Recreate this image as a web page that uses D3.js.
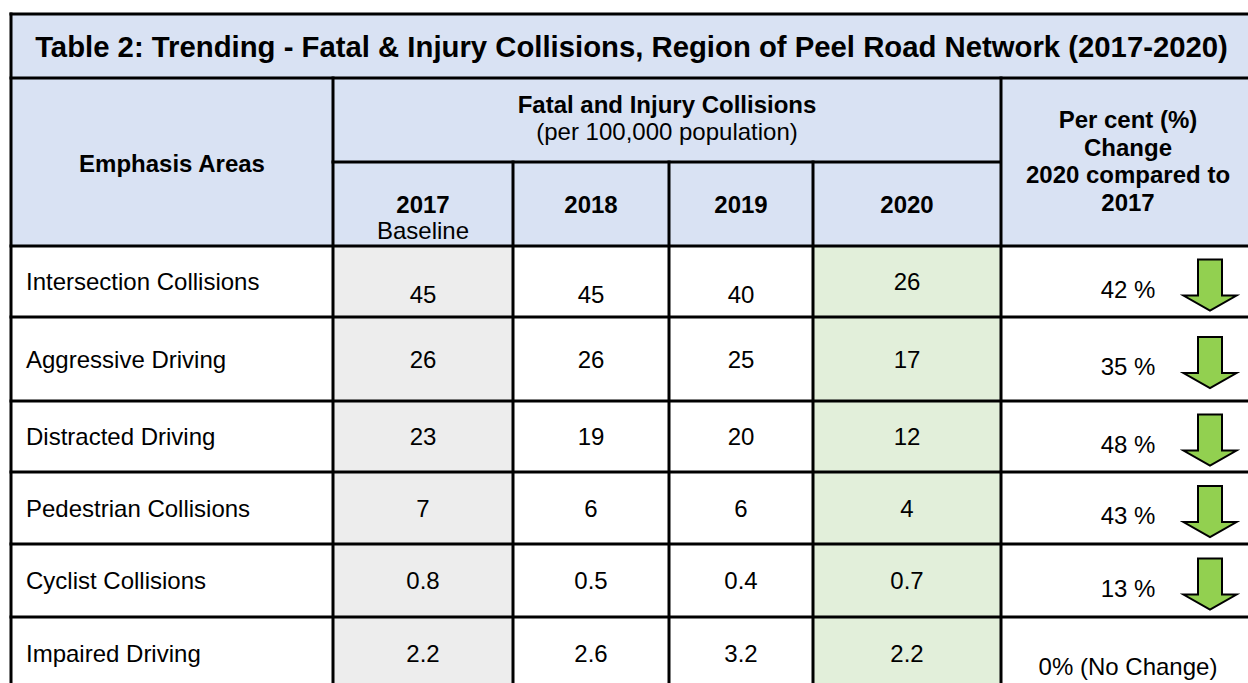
<!DOCTYPE html>
<html>
<head>
<meta charset="utf-8">
<script src="https://cdn.jsdelivr.net/npm/d3@7"></script>
<style>
  body { margin: 0; background: #fff; overflow: hidden; }
  text { font-family: "Liberation Sans", Arial, sans-serif; fill: #000; }
</style>
</head>
<body>
<div id="chart"></div>
<script>
// table content
const title = "Table 2: Trending - Fatal & Injury Collisions, Region of Peel Road Network (2017-2020)"
const emphasisAreas = ["Intersection Collisions", "Aggressive Driving", "Distracted Driving",
                       "Pedestrian Collisions", "Cyclist Collisions", "Impaired Driving"]
const years = ["2017", "2018", "2019", "2020"]
const values2017 = [45, 26, 23, 7, 0.8, 2.2]
const values2018 = [45, 26, 19, 6, 0.5, 2.6]
const values2019 = [40, 25, 20, 6, 0.4, 3.2]
const values2020 = [26, 17, 12, 4, 0.7, 2.2]
const percentChange = [42, 35, 48, 43, 13, 0]
const trend = ["down", "down", "down", "down", "down", "none"]
const changeHeader = ["Per cent (%)", "Change", "2020 compared to", "2017"]

const valuesByYear = { "2017": values2017, "2018": values2018, "2019": values2019, "2020": values2020 }

const width = 1248
const height = 683
const headerBlue = "#D9E2F3"
const lineColor = "#000"

const svg = d3.select("#chart")
              .append("svg")
              .attr("width", width)
              .attr("height", height)

// column and row layout
const columns = ["area", ...years, "change"]
const colLeft = d3.scaleOrdinal().domain(columns).range([11, 333, 513, 669, 813, 1001])
const colRight = d3.scaleOrdinal().domain(columns).range([333, 513, 669, 813, 1001, 1255])
const colMid = c => (colLeft(c) + colRight(c)) / 2

const rowTop = d3.scaleOrdinal().domain(emphasisAreas).range([246, 317, 401, 472, 544, 617])
const rowBottom = d3.scaleOrdinal().domain(emphasisAreas).range([317, 401, 472, 544, 617, 690])
const rowMid = r => (rowTop(r) + rowBottom(r)) / 2

const tableTop = 14, titleBottom = 78, subHeader = 162, headerBottom = 246
const left = colLeft("area"), right = colRight("change")

const cellFill = { "2017": "#EDEDED", "2020": "#E2EFDA" }

// backgrounds
svg.append("rect")
   .attr("x", left).attr("y", tableTop)
   .attr("width", right - left).attr("height", headerBottom - tableTop)
   .attr("fill", headerBlue)

const cells = emphasisAreas.flatMap(r => columns.map(c => ({ r, c })))
svg.append("g").selectAll("rect")
   .data(cells)
   .join("rect")
   .attr("x", d => colLeft(d.c))
   .attr("y", d => rowTop(d.r))
   .attr("width", d => colRight(d.c) - colLeft(d.c))
   .attr("height", d => rowBottom(d.r) - rowTop(d.r))
   .attr("fill", d => cellFill[d.c] || "#fff")

// grid lines
const bottom = rowBottom(emphasisAreas[emphasisAreas.length - 1])
const hLines = [
    [left, right, tableTop], [left, right, titleBottom],
    [colLeft("2017"), colRight("2020"), subHeader], [left, right, headerBottom],
    ...emphasisAreas.slice(0, -1).map(r => [left, right, rowBottom(r)])
]
const vLines = [
    [left, tableTop, bottom], [colLeft("2017"), titleBottom, bottom],
    [colLeft("change"), titleBottom, bottom],
    ...["2018", "2019", "2020"].map(c => [colLeft(c), subHeader, bottom])
]
const grid = svg.append("g").attr("stroke", lineColor).attr("stroke-width", 3)
grid.selectAll(".h").data(hLines).join("line").attr("class", "h")
    .attr("x1", d => d[0] - 1.5).attr("x2", d => d[1]).attr("y1", d => d[2]).attr("y2", d => d[2])
grid.selectAll(".v").data(vLines).join("line").attr("class", "v")
    .attr("x1", d => d[0]).attr("x2", d => d[0]).attr("y1", d => d[1] - 1.5).attr("y2", d => d[2])

// header text
svg.append("text")
   .attr("x", (left + 1252) / 2).attr("y", 57)
   .attr("text-anchor", "middle").attr("font-weight", "bold").attr("font-size", 29.3)
   .text(title)

const head = svg.append("g").attr("font-size", 24).attr("text-anchor", "middle")
head.append("text").attr("x", colMid("area")).attr("y", 172).attr("font-weight", "bold").text("Emphasis Areas")
head.append("text").attr("x", (colLeft("2017") + colRight("2020")) / 2).attr("y", 113)
    .attr("font-weight", "bold").text("Fatal and Injury Collisions")
head.append("text").attr("x", (colLeft("2017") + colRight("2020")) / 2).attr("y", 140)
    .text("(per 100,000 population)")
head.selectAll(".year").data(years).join("text").attr("class", "year")
    .attr("x", d => colMid(d)).attr("y", 213).attr("font-weight", "bold").text(d => d)
head.append("text").attr("x", colMid("2017")).attr("y", 239).text("Baseline")
head.selectAll(".chg").data(changeHeader).join("text").attr("class", "chg")
    .attr("x", colMid("change")).attr("y", (d, i) => 128 + i * 27.5)
    .attr("font-weight", "bold").text(d => d)

// body text
const body = svg.append("g").attr("font-size", 24)
body.selectAll(".label").data(emphasisAreas).join("text").attr("class", "label")
    .attr("x", left + 15).attr("y", d => rowMid(d) + 8.5).text(d => d)

const valueCells = emphasisAreas.flatMap((r, i) => years.map(y => ({ r, y, i, v: valuesByYear[y][i] })))
body.selectAll(".val").data(valueCells).join("text").attr("class", "val")
    .attr("text-anchor", "middle")
    .attr("x", d => colMid(d.y))
    // first row: the three earlier years sit at the bottom of their cells
    .attr("y", d => d.i === 0 && d.y !== "2020" ? rowBottom(d.r) - 14 : rowMid(d.r) + 8.5)
    .text(d => d.v)

body.selectAll(".pct").data(emphasisAreas).join("text").attr("class", "pct")
    .attr("text-anchor", "middle")
    .attr("x", colMid("change"))
    .attr("y", (d, i) => rowMid(d) + (trend[i] === "none" ? 21 : 16))
    .text((d, i) => percentChange[i] === 0 ? "0% (No Change)" : percentChange[i] + " %")

// down arrows
const arrow = (cx, top) => {
    const p = d3.path()
    p.moveTo(cx - 12, top)
    p.lineTo(cx + 12, top)
    p.lineTo(cx + 12, top + 36)
    p.lineTo(cx + 26.5, top + 36)
    p.lineTo(cx, top + 51)
    p.lineTo(cx - 26.5, top + 36)
    p.lineTo(cx - 12, top + 36)
    p.closePath()
    return p.toString()
}
svg.append("g").selectAll("path")
   .data(emphasisAreas.filter((d, i) => trend[i] === "down"))
   .join("path")
   .attr("d", d => arrow(1210, rowMid(d) - 22))
   .attr("fill", "#92D050")
   .attr("stroke", "#000")
   .attr("stroke-width", 2)
   .attr("stroke-linejoin", "miter")
</script>
</body>
</html>
